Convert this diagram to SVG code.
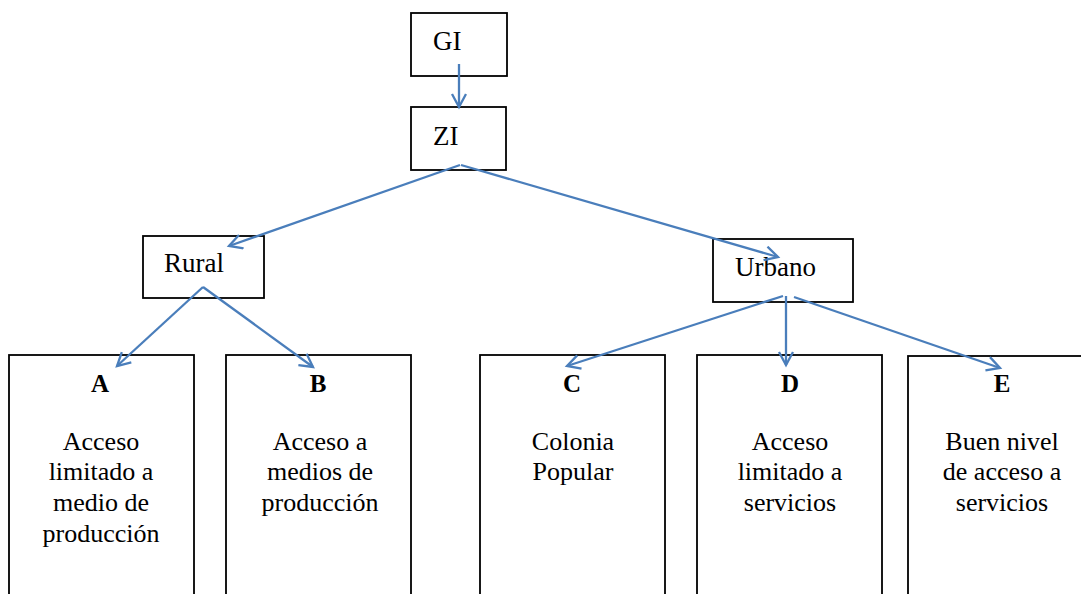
<svg xmlns="http://www.w3.org/2000/svg" width="1081" height="594" viewBox="0 0 1081 594">
<style>
text{font-family:"Liberation Serif","Times New Roman",Times,serif;fill:#000}
.box{fill:#fff;stroke:#000;stroke-width:1.8}
.lbl{font-size:27px}
.hd{font-size:25px;font-weight:bold;text-anchor:middle}
.bd{font-size:26px;text-anchor:middle}
.cn{stroke:#4A7EBB;stroke-width:2.3;fill:none;marker-end:url(#ah)}
</style>
<defs>
<marker id="ah" markerUnits="userSpaceOnUse" markerWidth="18" markerHeight="18" refX="14" refY="8" orient="auto">
<path d="M1,1 L14,8 L1,15" fill="none" stroke="#4A7EBB" stroke-width="2.3"/>
</marker>
</defs>
<g id="GI"><rect class="box" x="411" y="13" width="96" height="63"/><text class="lbl" x="433" y="50">GI</text></g>
<g id="ZI"><rect class="box" x="411" y="107" width="95" height="63"/><text class="lbl" x="433" y="145">ZI</text></g>
<g id="Rural"><rect class="box" x="143" y="236" width="121" height="62"/><text class="lbl" x="164" y="272">Rural</text></g>
<g id="Urbano"><rect class="box" x="713" y="239" width="140" height="63"/><text class="lbl" x="735" y="276">Urbano</text></g>
<g id="A"><rect class="box" x="9" y="355" width="185" height="260"/><text class="hd" x="100" y="392">A</text>
<text class="bd" x="101" y="450">Acceso</text><text class="bd" x="101" y="480">limitado a</text><text class="bd" x="101" y="511">medio de</text><text class="bd" x="101" y="542">producción</text></g>
<g id="B"><rect class="box" x="226" y="355" width="185" height="260"/><text class="hd" x="318" y="392">B</text>
<text class="bd" x="320" y="450">Acceso a</text><text class="bd" x="320" y="480">medios de</text><text class="bd" x="320" y="511">producción</text></g>
<g id="C"><rect class="box" x="480" y="355" width="185" height="260"/><text class="hd" x="572" y="392">C</text>
<text class="bd" x="573" y="450">Colonia</text><text class="bd" x="573" y="480">Popular</text></g>
<g id="D"><rect class="box" x="697" y="355" width="185" height="260"/><text class="hd" x="790" y="392">D</text>
<text class="bd" x="790" y="450">Acceso</text><text class="bd" x="790" y="480">limitado a</text><text class="bd" x="790" y="511">servicios</text></g>
<g id="E"><rect class="box" x="908" y="356" width="185" height="260"/><text class="hd" x="1002" y="392">E</text>
<text class="bd" x="1002" y="450">Buen nivel</text><text class="bd" x="1002" y="480">de acceso a</text><text class="bd" x="1002" y="511">servicios</text></g>
<g id="connectors">
<line class="cn" x1="459" y1="64" x2="459" y2="107"/>
<line class="cn" x1="460" y1="165" x2="229" y2="246"/>
<line class="cn" x1="461" y1="165" x2="778" y2="257"/>
<line class="cn" x1="203" y1="287" x2="117" y2="366"/>
<line class="cn" x1="203" y1="287" x2="313" y2="367"/>
<line class="cn" x1="783" y1="296" x2="567" y2="366"/>
<line class="cn" x1="786" y1="296" x2="786" y2="365"/>
<line class="cn" x1="794" y1="297" x2="1000" y2="368"/>
</g>
</svg>
